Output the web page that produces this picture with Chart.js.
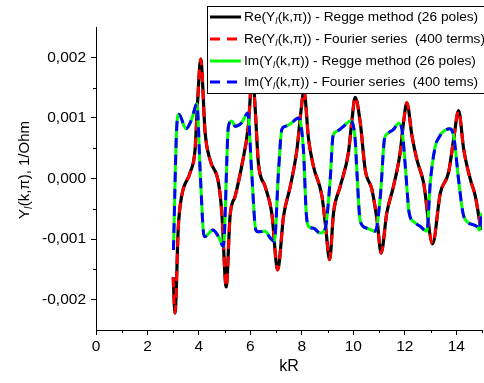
<!DOCTYPE html>
<html>
<head>
<meta charset="utf-8">
<script src="https://cdn.jsdelivr.net/npm/chart.js@4/dist/chart.umd.min.js"></script>
<style>
html,body{margin:0;padding:0;background:#fff;}
canvas{display:block;}
</style>
</head>
<body>
<canvas id="c" width="484" height="383"></canvas>
<script>
// ---- data (values in 1/Ohm) ----
const reX = [3.0, 3.07, 3.2, 3.33, 3.66, 3.85, 3.94, 4.07, 4.24, 4.43, 4.76, 4.89, 5.06, 5.21, 5.41, 5.66, 5.92, 6.08, 6.18, 6.31, 6.57, 6.83, 7.06, 7.29, 7.55, 7.81, 7.96, 8.08, 8.26, 8.45, 8.78, 8.91, 9.08, 9.23, 9.49, 9.81, 9.95, 10.07, 10.27, 10.46, 10.72, 10.92, 11.08, 11.3, 11.56, 11.82, 11.95, 12.08, 12.28, 12.47, 12.73, 13.08, 13.38, 13.7, 13.9, 14.09, 14.29, 14.55, 14.74, 14.96];
const reRegge = [-0.00163, -0.00222, -0.00079, -0.00029, 0.00010, 0.00048, 0.00120, 0.00197, 0.00076, 0.00031, -0.00007, -0.00057, -0.00179, -0.00062, -0.00029, 0.00020, 0.00087, 0.00175, 0.00120, 0.00026, -0.00013, -0.00057, -0.00151, -0.00062, -0.00013, 0.00048, 0.00109, 0.00145, 0.00065, 0.00020, -0.00029, -0.00074, -0.00134, -0.00057, -0.00013, 0.00043, 0.00098, 0.00134, 0.00092, 0.00015, -0.00018, -0.00068, -0.00123, -0.00057, -0.00013, 0.00043, 0.00092, 0.00125, 0.00070, 0.00031, -0.00007, -0.00108, -0.00024, 0.00010, 0.00065, 0.00112, 0.00048, -0.00002, -0.00029, -0.00085];
const reFourier = [-0.00163, -0.00222, -0.00079, -0.00029, 0.00010, 0.00048, 0.00120, 0.00197, 0.00076, 0.00031, -0.00007, -0.00057, -0.00179, -0.00062, -0.00029, 0.00020, 0.00087, 0.00175, 0.00120, 0.00026, -0.00013, -0.00057, -0.00151, -0.00062, -0.00013, 0.00048, 0.00109, 0.00145, 0.00065, 0.00020, -0.00029, -0.00074, -0.00134, -0.00057, -0.00013, 0.00043, 0.00098, 0.00134, 0.00092, 0.00015, -0.00018, -0.00068, -0.00123, -0.00057, -0.00013, 0.00043, 0.00092, 0.00125, 0.00070, 0.00031, -0.00007, -0.00108, -0.00024, 0.00010, 0.00065, 0.00112, 0.00048, -0.00002, -0.00029, -0.00085];

const imX = [3.01, 3.14, 3.22, 3.5, 3.72, 3.92, 4.05, 4.17, 4.22, 4.54, 4.76, 4.95, 5.15, 5.28, 5.41, 5.66, 5.9, 6.05, 6.21, 6.31, 6.57, 6.77, 6.93, 7.09, 7.22, 7.35, 7.55, 7.87, 8.06, 8.17, 8.26, 8.45, 8.71, 8.91, 9.1, 9.21, 9.36, 9.62, 9.88, 10.07, 10.14, 10.27, 10.53, 10.85, 11.05, 11.21, 11.3, 11.56, 11.76, 11.89, 12.02, 12.17, 12.34, 12.6, 12.86, 12.99, 13.19, 13.32, 13.51, 13.74, 13.9, 14.09, 14.26, 14.41, 14.8, 14.9, 14.97];
const imRegge = [-0.00118, 0.00087, 0.00106, 0.00082, 0.00098, 0.00123, 0.00010, -0.00087, -0.00096, -0.00085, -0.00096, -0.00112, 0.00087, 0.00095, 0.00086, 0.00092, 0.00108, 0.00010, -0.00085, -0.00088, -0.00087, -0.00098, -0.00104, 0.00010, 0.00081, 0.00086, 0.00090, 0.00100, 0.00048, -0.00057, -0.00079, -0.00082, -0.00090, -0.00082, -0.00002, 0.00070, 0.00078, 0.00086, 0.00095, 0.00065, 0.00010, -0.00071, -0.00082, -0.00087, -0.00029, 0.00065, 0.00073, 0.00081, 0.00091, 0.00081, 0.00020, -0.00057, -0.00071, -0.00079, -0.00087, -0.00007, 0.00054, 0.00067, 0.00078, 0.00082, 0.00070, -0.00002, -0.00057, -0.00071, -0.00079, -0.00085, -0.00057];
const imFourier = [-0.00118, 0.00087, 0.00106, 0.00082, 0.00098, 0.00123, 0.00010, -0.00087, -0.00096, -0.00085, -0.00096, -0.00112, 0.00087, 0.00095, 0.00086, 0.00092, 0.00108, 0.00010, -0.00085, -0.00088, -0.00087, -0.00098, -0.00104, 0.00010, 0.00081, 0.00086, 0.00090, 0.00100, 0.00048, -0.00057, -0.00079, -0.00082, -0.00090, -0.00082, -0.00002, 0.00070, 0.00078, 0.00086, 0.00095, 0.00065, 0.00010, -0.00071, -0.00082, -0.00087, -0.00029, 0.00065, 0.00073, 0.00081, 0.00091, 0.00081, 0.00020, -0.00057, -0.00071, -0.00079, -0.00087, -0.00007, 0.00054, 0.00067, 0.00078, 0.00082, 0.00070, -0.00002, -0.00057, -0.00071, -0.00079, -0.00085, -0.00057];

const xTicks = [0, 2, 4, 6, 8, 10, 12, 14];
const xMinorTicks = [1, 3, 5, 7, 9, 11, 13, 15];
const yTicks = [-0.002, -0.001, 0, 0.001, 0.002];
const yMinorTicks = [-0.0015, -0.0005, 0.0005, 0.0015];

const legendItems = [
  {pre: 'Re(Y', post: '(k,\u03c0)) - Regge method (26 poles)', color: '#000000', dash: []},
  {pre: 'Re(Y', post: '(k,\u03c0)) - Fourier series  (400 terms)', color: '#ff0000', dash: [10, 7]},
  {pre: 'Im(Y', post: '(k,\u03c0)) - Regge method (26 poles)', color: '#00ff00', dash: []},
  {pre: 'Im(Y', post: '(k,\u03c0)) - Fourier series  (400 tems)', color: '#0000ff', dash: [10, 7]}
];

const pts = (xs, ys) => xs.map((x, i) => ({x: x, y: ys[i]}));
const FONT = '"Liberation Sans", Arial, sans-serif';

const decorPlugin = {
  id: 'decor',
  afterDraw(chart) {
    const ctx = chart.ctx;
    const xs = chart.scales.x, ys = chart.scales.y;
    const ca = chart.chartArea;
    ctx.save();
    // minor ticks
    ctx.strokeStyle = '#000';
    ctx.lineWidth = 1;
    ctx.beginPath();
    yMinorTicks.forEach(v => {
      const p = Math.round(ys.getPixelForValue(v)) + 0.5;
      ctx.moveTo(ca.left - 3, p); ctx.lineTo(ca.left, p);
    });
    xMinorTicks.forEach(v => {
      const p = Math.round(xs.getPixelForValue(v)) + 0.5;
      ctx.moveTo(p, ca.bottom); ctx.lineTo(p, ca.bottom + 3);
    });
    ctx.stroke();

    // legend box
    const bx = 207, by = 6, bw = 290, bh = 87;
    ctx.fillStyle = '#fff';
    ctx.fillRect(bx, by, bw, bh);
    ctx.strokeStyle = '#000';
    ctx.lineWidth = 1;
    ctx.strokeRect(bx + 0.5, by + 0.5, bw, bh);
    const rows = [17, 39, 61, 82];
    legendItems.forEach((it, i) => {
      const yy = rows[i];
      ctx.strokeStyle = it.color;
      ctx.lineWidth = 3;
      ctx.setLineDash(it.dash);
      ctx.beginPath();
      ctx.moveTo(210, yy); ctx.lineTo(241, yy);
      ctx.stroke();
      ctx.setLineDash([]);
      ctx.fillStyle = '#000';
      ctx.textBaseline = 'middle';
      ctx.textAlign = 'left';
      ctx.font = '13.7px ' + FONT;
      let tx = 244;
      ctx.fillText(it.pre, tx, yy);
      tx += ctx.measureText(it.pre).width;
      ctx.font = 'italic 9.5px ' + FONT;
      ctx.fillText('l', tx, yy + 4);
      tx += ctx.measureText('l').width + 0.5;
      ctx.font = '13.7px ' + FONT;
      ctx.fillText(it.post, tx, yy);
    });

    // axis titles
    ctx.fillStyle = '#000';
    ctx.font = '16px ' + FONT;
    ctx.textAlign = 'center';
    ctx.textBaseline = 'middle';
    ctx.fillText('kR', (ca.left + ca.right) / 2, 367);

    ctx.translate(25, 170);
    ctx.rotate(-Math.PI / 2);
    ctx.font = '15px ' + FONT;
    const p1 = 'Y', p3 = '(k,\u03c0), 1/Ohm';
    const w1 = ctx.measureText(p1).width, w3 = ctx.measureText(p3).width;
    ctx.font = 'italic 10px ' + FONT;
    const w2 = ctx.measureText('l').width + 0.5;
    let x0 = -(w1 + w2 + w3) / 2;
    ctx.textAlign = 'left';
    ctx.font = '15px ' + FONT;
    ctx.fillText(p1, x0, 0);
    ctx.font = 'italic 10px ' + FONT;
    ctx.fillText('l', x0 + w1, 4);
    ctx.font = '15px ' + FONT;
    ctx.fillText(p3, x0 + w1 + w2, 0);
    ctx.restore();
  }
};

new Chart(document.getElementById('c'), {
  type: 'line',
  data: {
    datasets: [
      {label: 'Re Regge', data: pts(reX, reRegge), borderColor: '#000000', borderWidth: 3.2, order: 4},
      {label: 'Re Fourier', data: pts(reX, reFourier), borderColor: '#ff0000', borderWidth: 3, borderDash: [10, 7], order: 3},
      {label: 'Im Regge', data: pts(imX, imRegge), borderColor: '#00ff00', borderWidth: 3, order: 2},
      {label: 'Im Fourier', data: pts(imX, imFourier), borderColor: '#0000ff', borderWidth: 3, borderDash: [10, 7], order: 1}
    ]
  },
  options: {
    responsive: false,
    animation: false,
    devicePixelRatio: 1,
    layout: {padding: {left: 0, top: 27, right: 2, bottom: 0}},
    elements: {
      point: {radius: 0},
      line: {cubicInterpolationMode: 'monotone', fill: false, borderCapStyle: 'butt'}
    },
    plugins: {legend: {display: false}, tooltip: {enabled: false}},
    scales: {
      x: {
        type: 'linear', min: 0, max: 15,
        afterFit(s) { s.height = 53; },
        afterBuildTicks(s) { s.ticks = xTicks.map(v => ({value: v})); },
        grid: {drawOnChartArea: false, drawTicks: true, tickLength: 5, color: '#000'},
        border: {display: true, color: '#000', width: 1},
        ticks: {color: '#000', font: {family: FONT, size: 15.5}, padding: 2, maxRotation: 0,
          callback: v => String(v)}
      },
      y: {
        type: 'linear', min: -0.0025, max: 0.0025,
        afterFit(s) { s.width = 96; },
        afterBuildTicks(s) { s.ticks = yTicks.map(v => ({value: v})); },
        grid: {drawOnChartArea: false, drawTicks: true, tickLength: 5, color: '#000'},
        border: {display: true, color: '#000', width: 1},
        ticks: {color: '#000', font: {family: FONT, size: 15.5}, padding: 5,
          callback: v => (Math.abs(v) < 1e-9 ? 0 : v).toFixed(3).replace('.', ',')}
      }
    }
  },
  plugins: [decorPlugin]
});
</script>
</body>
</html>
